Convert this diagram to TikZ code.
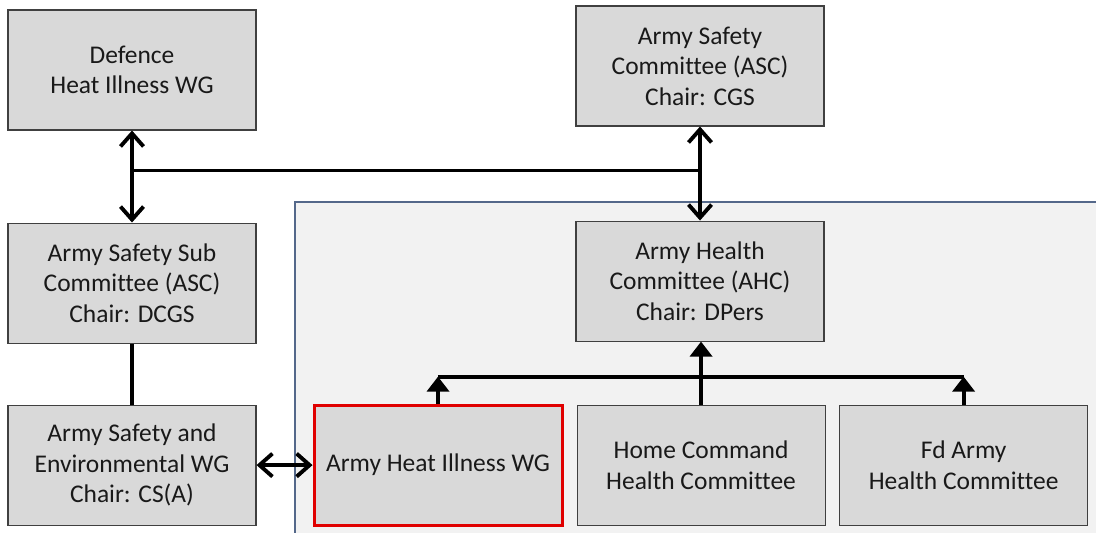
\documentclass[tikz,border=0pt]{standalone}
\usepackage{fontspec}
\setmainfont{Carlito}[Ligatures=NoCommon]
\usepackage{tikz}
\usetikzlibrary{positioning,calc,arrows.meta}
\definecolor{boxgray}{RGB}{217,217,217}
\definecolor{boxedge}{RGB}{64,64,64}
\definecolor{panelfill}{RGB}{242,242,242}
\definecolor{paneledge}{RGB}{84,104,138}
\definecolor{wgred}{RGB}{224,0,0}
\tikzset{
    unit/.style={rectangle, draw=boxedge, line width=0.6pt, fill=boxgray, minimum width=4.96cm, minimum height=2.4cm, align=center, text=black!90, font=\fontsize{14.5}{17.3}\selectfont},
    focus/.style={unit, draw=wgred, line width=1.7pt},
    link/.style={draw, line width=2.2pt},
    twoway/.style={link, {Straight Barb[length=2.6mm,width=4.6mm]}-{Straight Barb[length=2.6mm,width=4.6mm]}},
    report/.style={link, -{Triangle[length=3mm,width=4.4mm]}}
}
\begin{document}
\begin{tikzpicture}
    \useasboundingbox (0,0) rectangle (21.92,-10.66);
    \fill[white] (0,0) rectangle (21.92,-10.66);

    % Army panel
    \draw[paneledge, fill=panelfill, line width=0.9pt] (5.9,-4.04) rectangle (22.4,-11.2);

    % Defence level
    \node [unit] (defwg) at (2.64,-1.40) {Defence\\Heat Illness WG};
    \node [unit] (asc) at (14.0,-1.32) {Army Safety\\Committee (ASC)\\Chair: CGS};

    % Safety line
    \node [unit, below=1.84cm of defwg] (subasc) {Army Safety Sub\\Committee (ASC)\\Chair: DCGS};
    \node [unit, below=1.22cm of subasc] (envwg) {Army Safety and\\Environmental WG\\Chair: CS(A)};

    % Health line
    \node [unit, below=1.88cm of asc] (ahc) {Army Health\\Committee (AHC)\\Chair: DPers};
    \node [focus, right=1.12cm of envwg] (heatwg) {Army Heat Illness WG};
    \node [unit, right=0.26cm of heatwg] (homecmd) {Home Command\\Health Committee};
    \node [unit, right=0.27cm of homecmd] (fdarmy) {Fd Army\\Health Committee};

    % Junctions
    \coordinate (jleft) at ($(defwg.south)!0.435!(subasc.north)$);
    \coordinate (jright) at (asc.south |- jleft);
    \coordinate (tleft) at ($(heatwg.north)+(0,0.54)$);
    \coordinate (tright) at (fdarmy.north |- tleft);

    % Connections
    \path [twoway] (defwg) -- (subasc);
    \path [twoway] (asc) -- (ahc);
    \path [link] (jleft) -- (jright);
    \path [link] (subasc) -- (envwg);
    \path [twoway] (envwg) -- (heatwg);
    \path [report] (heatwg.north) -- (tleft);
    \path [report] (fdarmy.north) -- (tright);
    \path [link] (tleft) -- (tright);
    \path [report] (homecmd.north) -- (ahc.south -| homecmd.north);
\end{tikzpicture}
\end{document}
